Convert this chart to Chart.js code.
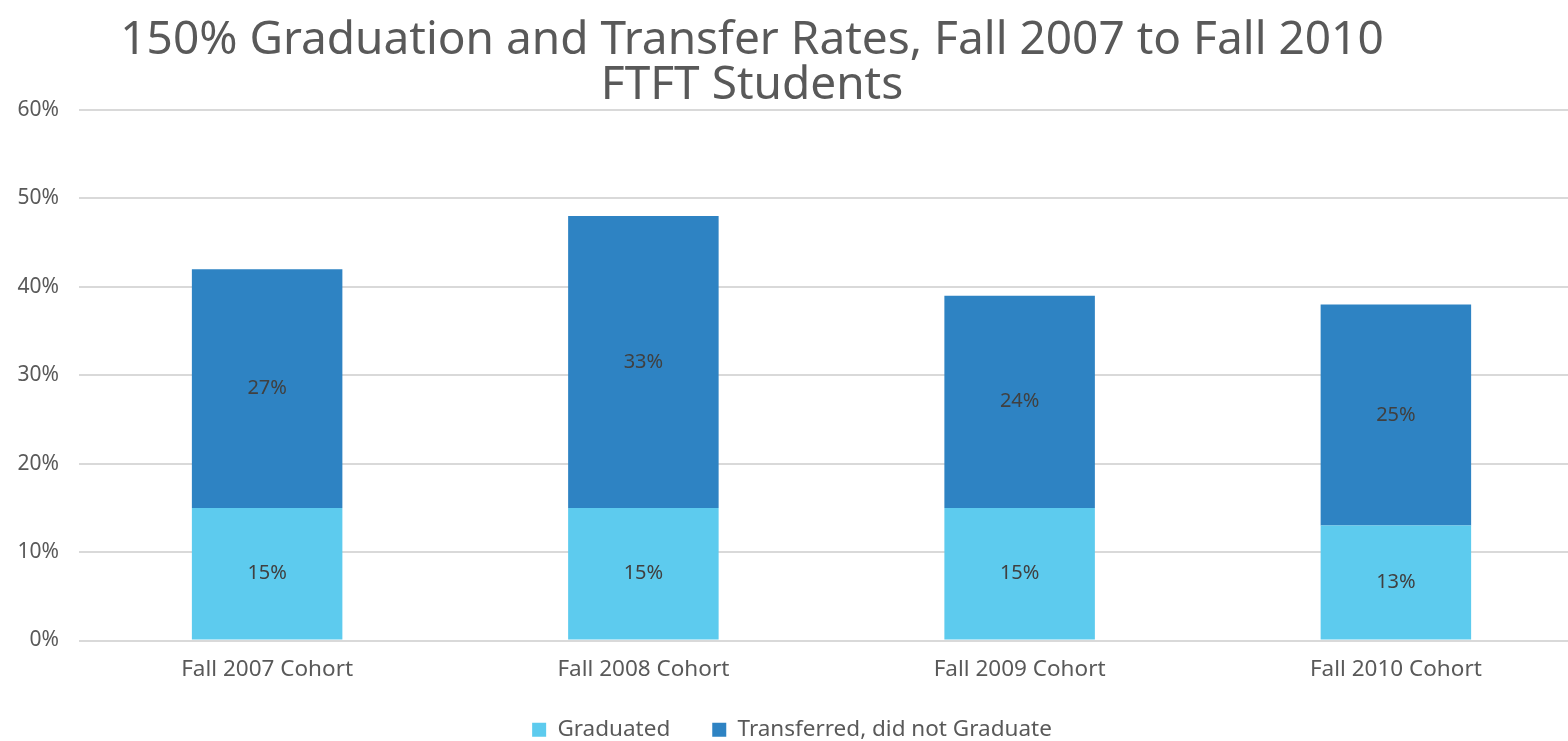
<!DOCTYPE html>
<html>
<head>
<meta charset="utf-8">
<script src="https://cdn.jsdelivr.net/npm/chart.js@4/dist/chart.umd.min.js"></script>
<style>
	html, body { margin: 0; padding: 0; background: #fff; overflow: hidden; }
	#wrap { width: 1600px; height: 741px; position: relative; }
</style>
</head>
<body>
<div id="wrap"><canvas id="myChart"></canvas></div>
<script>
const titleLines = ['150% Graduation and Transfer Rates, Fall 2007 to Fall 2010', 'FTFT Students'];
const cohorts = ['Fall 2007 Cohort', 'Fall 2008 Cohort', 'Fall 2009 Cohort', 'Fall 2010 Cohort'];
const graduated = [15, 15, 15, 13];
const transferred = [27, 33, 24, 25];
const yTicks = [0, 10, 20, 30, 40, 50, 60];

const FONT = "'Noto Sans', sans-serif";

// title drawn off-centre, like the original
const titlePlugin = {
	id: 'offTitle',
	afterDraw(chart) {
		const ctx = chart.ctx;
		ctx.save();
		ctx.fillStyle = '#595959';
		ctx.font = '46px ' + FONT;
		ctx.textAlign = 'center';
		ctx.textBaseline = 'middle';
		ctx.fillText(titleLines[0], 752, 41);
		ctx.fillText(titleLines[1], 752, 86);
		ctx.restore();
	}
};

// value labels in the middle of each segment
const labelPlugin = {
	id: 'segLabels',
	afterDatasetsDraw(chart) {
		const ctx = chart.ctx;
		ctx.save();
		ctx.fillStyle = '#404040';
		ctx.font = '20px ' + FONT;
		ctx.textAlign = 'center';
		ctx.textBaseline = 'middle';
		chart.data.datasets.forEach(function (ds, i) {
			chart.getDatasetMeta(i).data.forEach(function (bar, j) {
				ctx.fillText(ds.data[j] + '%', bar.x, (bar.y + bar.base) / 2);
			});
		});
		ctx.restore();
	}
};

window.myChart = new Chart(document.getElementById('myChart').getContext('2d'), {
	type: 'bar',
	data: {
		labels: cohorts,
		datasets: [
			{ label: 'Graduated', data: graduated, backgroundColor: '#5DCBEE' },
			{ label: 'Transferred, did not Graduate', data: transferred, backgroundColor: '#2E83C3' }
		]
	},
	options: {
		responsive: true,
		maintainAspectRatio: false,
		animation: false,
		layout: { padding: { top: 110, right: 16, left: 0, bottom: -10 } },
		datasets: { bar: { categoryPercentage: 1, barPercentage: 0.4 } },
		plugins: {
			title: { display: false },
			tooltip: { enabled: false },
			legend: {
				position: 'bottom',
				labels: {
					font: { family: FONT, size: 22.5 },
					color: '#595959',
					boxWidth: 14,
					boxHeight: 14,
					padding: 42
				}
			}
		},
		scales: {
			x: {
				stacked: true,
				grid: { display: false },
				border: { display: false },
				ticks: { font: { family: FONT, size: 22.5 }, color: '#595959', padding: 8 },
				afterFit(s) { s.height = 36; }
			},
			y: {
				stacked: true,
				min: 0,
				max: 60,
				afterBuildTicks(s) { s.ticks = yTicks.map(v => ({ value: v })); },
				grid: { color: '#d9d9d9', lineWidth: 2, drawTicks: false },
				border: { display: false },
				ticks: {
					font: { family: FONT, size: 21 },
					color: '#595959',
					padding: 20,
					callback: v => v + '%'
				},
				afterFit(s) { s.width = 79; }
			}
		}
	},
	plugins: [titlePlugin, labelPlugin]
});
</script>
</body>
</html>
